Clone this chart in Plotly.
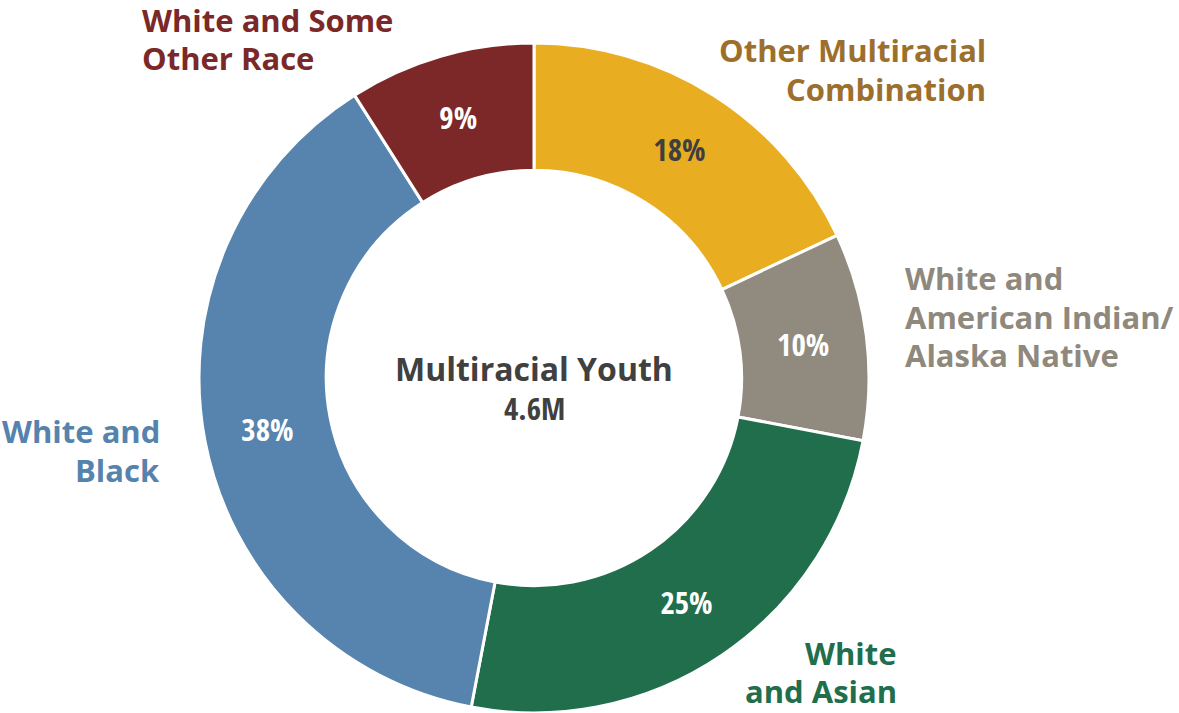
import plotly.graph_objects as go

# Multiracial youth by racial combination (share of 4.6M)
groups = [
    "Other Multiracial Combination",
    "White and American Indian/Alaska Native",
    "White and Asian",
    "White and Black",
    "White and Some Other Race",
]
shares = [18, 10, 25, 38, 9]
slice_colors = ["#E9AD22", "#918A7E", "#216E4C", "#5684AE", "#7D2828"]
pct_text_colors = ["#3F3F3F", "#FFFFFF", "#FFFFFF", "#FFFFFF", "#FFFFFF"]

center_title = "Multiracial Youth"
center_total = "4.6M"

# outer category labels, one entry per text line: (text, x px, y px, anchor, color)
label_lines = [
    ("White and Some", 140, 20, "left", "#7B2828"),
    ("Other Race", 140, 58, "left", "#7B2828"),
    ("Other Multiracial", 988, 50, "right", "#9C6F2D"),
    ("Combination", 988, 89, "right", "#9C6F2D"),
    ("White and", 903, 278, "left", "#8F887C"),
    ("American Indian/", 903, 317, "left", "#8F887C"),
    ("Alaska Native", 903, 355, "left", "#8F887C"),
    ("White and", 162, 431, "right", "#5583AD"),
    ("Black", 162, 470, "right", "#5583AD"),
    ("White", 899, 653, "right", "#216E4C"),
    ("and Asian", 899, 691, "right", "#216E4C"),
]

W, H = 1179, 713
cx, cy, R = 534, 378, 335

COND = "Open Sans Condensed, Liberation Sans Narrow, DejaVu Sans Condensed, sans-serif"
SANS = "Open Sans, Noto Sans, sans-serif"

fig = go.Figure(
    go.Pie(
        labels=groups,
        values=shares,
        sort=False,
        direction="clockwise",
        rotation=0,
        hole=0.62,
        marker=dict(colors=slice_colors, line=dict(color="#FFFFFF", width=3)),
        texttemplate="%{value}%",
        textposition="inside",
        insidetextorientation="horizontal",
        insidetextfont=dict(family=COND, size=31, color=pct_text_colors, weight="bold"),
        showlegend=False,
        hoverinfo="label+percent",
        domain=dict(x=[(cx - R) / W, (cx + R) / W], y=[(H - cy - R) / H, (H - cy + R) / H]),
    )
)

annotations = []
for text, x, y, anchor, color in label_lines:
    annotations.append(
        dict(
            text=text, x=x / W, y=1 - y / H, xref="paper", yref="paper",
            xanchor=anchor, yanchor="middle", showarrow=False,
            font=dict(family=SANS, size=31, color=color, weight="bold"),
        )
    )
annotations.append(
    dict(
        text=center_title, x=cx / W, y=1 - 368 / H, xref="paper", yref="paper",
        xanchor="center", yanchor="middle", showarrow=False,
        font=dict(family=SANS, size=32, color="#404040", weight="bold"),
    )
)
annotations.append(
    dict(
        text=center_total, x=cx / W, y=1 - 408 / H, xref="paper", yref="paper",
        xanchor="center", yanchor="middle", showarrow=False,
        font=dict(family=COND, size=31, color="#404040", weight="bold"),
    )
)

fig.update_layout(
    width=W,
    height=H,
    margin=dict(l=0, r=0, t=0, b=0),
    paper_bgcolor="#FFFFFF",
    plot_bgcolor="#FFFFFF",
    annotations=annotations,
)

fig.write_html("out.html")
